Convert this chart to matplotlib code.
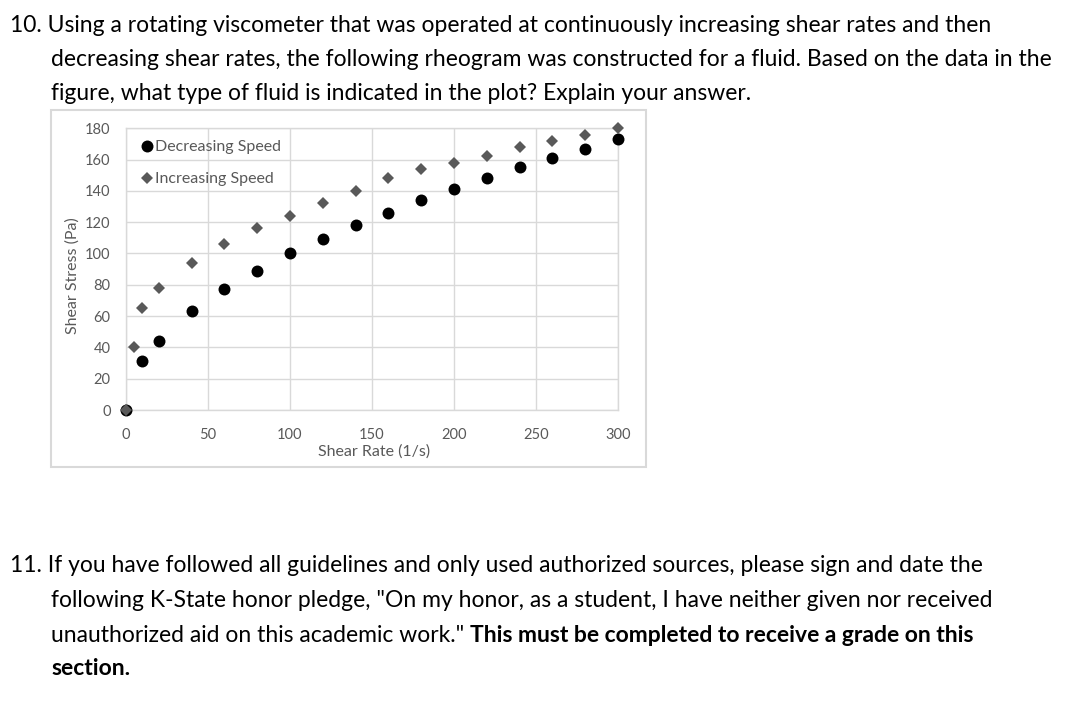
import matplotlib.pyplot as plt
from matplotlib.patches import Rectangle

# data
rate_inc = [0, 5, 10, 20, 40, 60, 80, 100, 120, 140, 160, 180, 200, 220, 240, 260, 280, 300]
stress_inc = [0, 40, 65, 78, 94, 106, 116, 124, 132, 140, 148, 154, 158, 162, 168, 172, 176, 180]
rate_dec = [0, 10, 20, 40, 60, 80, 100, 120, 140, 160, 180, 200, 220, 240, 260, 280, 300]
stress_dec = [0, 31, 44, 63, 77, 89, 100, 109, 118, 126, 134, 141, 148, 155, 161, 167, 173]
xticks = [0, 50, 100, 150, 200, 250, 300]
yticks = [0, 20, 40, 60, 80, 100, 120, 140, 160, 180]

q10 = ["10. Using a rotating viscometer that was operated at continuously increasing shear rates and then",
       "decreasing shear rates, the following rheogram was constructed for a fluid. Based on the data in the",
       "figure, what type of fluid is indicated in the plot? Explain your answer."]
q11 = ["11. If you have followed all guidelines and only used authorized sources, please sign and date the",
       "following K-State honor pledge, \"On my honor, as a student, I have neither given nor received"]
q11_plain = "unauthorized aid on this academic work.\" "
q11_bold = ["This must be completed to receive a grade on this", "section."]

W, H = 1070, 720
fig = plt.figure(figsize=(W / 100, H / 100), dpi=100)
plt.rcParams['font.family'] = ['Lato', 'DejaVu Sans']
fs = 16.5

def px(x, y):
    return x / W, 1 - y / H

fig.text(*px(10, 32), q10[0], fontsize=fs, va='baseline')
fig.text(*px(51, 66), q10[1], fontsize=fs, va='baseline')
fig.text(*px(51, 100), q10[2], fontsize=fs, va='baseline')
fig.text(*px(10, 572), q11[0], fontsize=fs, va='baseline')
fig.text(*px(51, 607), q11[1], fontsize=fs, va='baseline')
t = fig.text(*px(51, 642), q11_plain, fontsize=fs, va='baseline')
fig.canvas.draw()
bb = t.get_window_extent()
fig.text(bb.x1 / W, 1 - 642 / H, q11_bold[0], fontsize=fs, va='baseline', fontweight='bold')
fig.text(*px(51, 675), q11_bold[1], fontsize=fs, va='baseline', fontweight='bold')

# chart frame
fig.patches.append(Rectangle(px(51, 467), 595 / W, 357 / H, transform=fig.transFigure,
                             fill=False, edgecolor='#d9d9d9', linewidth=1.5))

gray = '#595959'
grid = '#d9d9d9'
ax = fig.add_axes([126 / W, 1 - 410 / H, 492 / W, 281.7 / H])
ax.plot(rate_dec, stress_dec, 'o', color='black', markersize=8.6, markeredgewidth=0,
        label='Decreasing Speed', clip_on=False, zorder=3)
ax.plot(rate_inc, stress_inc, 'D', color=gray, markersize=6.6, markeredgewidth=0,
        label='Increasing Speed', clip_on=False, zorder=4)
ax.set_xlim(0, 300)
ax.set_ylim(0, 180)
ax.set_xticks(xticks)
ax.set_yticks(yticks)
ax.grid(True, color=grid, linewidth=1)
ax.set_axisbelow(True)
for s in ax.spines.values():
    s.set_color(grid)
    s.set_linewidth(1)
ax.tick_params(length=0, labelsize=10.5, labelcolor=gray)
ax.tick_params(axis='x', pad=13)
ax.tick_params(axis='y', pad=11)
ax.set_xlabel('Shear Rate (1/s)', fontsize=11.5, color=gray, va='center')
ax.xaxis.set_label_coords(0.504, -0.149)
ax.set_ylabel('Shear Stress (Pa)', fontsize=11.5, color=gray, va='center')
ax.yaxis.set_label_coords(-0.108, 0.476)
leg = ax.legend(loc='upper left', bbox_to_anchor=(0.026, 0.958), frameon=False, fontsize=11.5,
                labelcolor=gray, handletextpad=0.0, handlelength=1.0, borderaxespad=0,
                borderpad=0, labelspacing=1.12)

fig.savefig('out.png', dpi=100)
